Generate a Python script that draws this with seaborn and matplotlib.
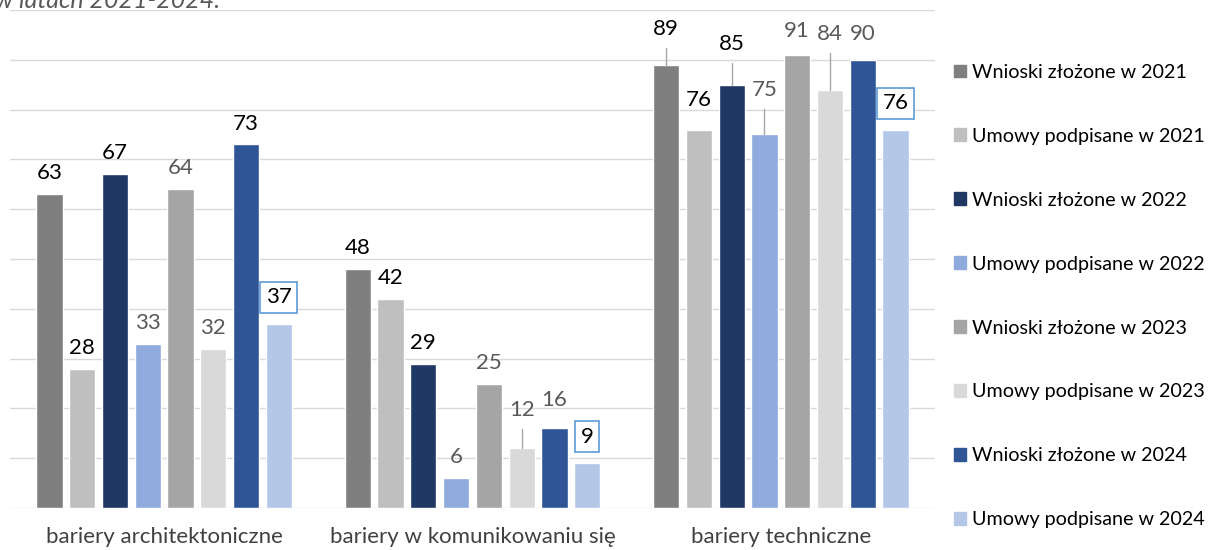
import matplotlib
matplotlib.use("Agg")
import matplotlib.pyplot as plt
import seaborn as sns
import pandas as pd

categories = ["bariery architektoniczne", "bariery w komunikowaniu się", "bariery techniczne"]
series = ["Wnioski złożone w 2021", "Umowy podpisane w 2021",
          "Wnioski złożone w 2022", "Umowy podpisane w 2022",
          "Wnioski złożone w 2023", "Umowy podpisane w 2023",
          "Wnioski złożone w 2024", "Umowy podpisane w 2024"]
values = [
    [63, 28, 67, 33, 64, 32, 73, 37],
    [48, 42, 29, 6, 25, 12, 16, 9],
    [89, 76, 85, 75, 91, 84, 90, 76],
]
colors = ["#7F7F7F", "#BFBFBF", "#1F3864", "#8FAADC",
          "#A5A5A5", "#D9D9D9", "#2F5597", "#B4C7E7"]
# label colour per bar (black vs grey), as in the original
dark_label = [
    [1, 1, 1, 0, 0, 0, 1, 1],
    [1, 1, 1, 0, 0, 0, 0, 1],
    [1, 1, 1, 0, 0, 0, 0, 1],
]

rows = []
for c, vals in zip(categories, values):
    for s, v in zip(series, vals):
        rows.append({"kategoria": c, "seria": s, "wartosc": v})
df = pd.DataFrame(rows)

sns.set_style("white")
plt.rcParams["font.family"] = ["Lato", "DejaVu Sans"]

fig = plt.figure(figsize=(12.08, 5.5), dpi=100)
ax = fig.add_axes([10 / 1208, 42 / 550, 925 / 1208, 498 / 550])

sns.barplot(data=df, x="kategoria", y="wartosc", hue="seria", palette=colors,
            width=0.85, gap=0.2, ax=ax, legend=False, saturation=1)

ax.set_ylim(0, 100)
ax.set_yticks(range(0, 101, 10))
ax.yaxis.grid(True, color="#D9D9D9", linewidth=1)
ax.set_axisbelow(True)
for sp in ax.spines.values():
    sp.set_visible(False)
ax.tick_params(axis="y", left=False, labelleft=False)
ax.tick_params(axis="x", bottom=False, labelsize=16, colors="#404040", pad=10)
ax.set_xlabel("")
ax.set_ylabel("")
ax.set_xlim(-0.5, 2.5)

# labels lifted with leader lines: (category, series) -> label height
lifted = {(2, 0): 96.2, (2, 2): 93.2, (2, 3): 84.0, (2, 5): 95.2, (1, 5): 19.6}
extra = {(2, 1): 6.0, (2, 4): 4.8, (2, 6): 5.2, (1, 6): 5.6}

for si, cont in enumerate(ax.containers):
    for ci, bar in enumerate(cont):
        v = values[ci][si]
        xc = bar.get_x() + bar.get_width() / 2
        col = "#000000" if dark_label[ci][si] else "#595959"
        if (ci, si) in lifted:
            ly = lifted[(ci, si)]
            ax.plot([xc, xc], [v, ly - 3.8], color="#A6A6A6", linewidth=1, zorder=1)
        else:
            ly = v + extra.get((ci, si), 4.2)
        kw = {}
        if si == 7:
            ly = v + 5.3
            kw["bbox"] = dict(boxstyle="square,pad=0.25", facecolor="white",
                              edgecolor="#5B9BD5", linewidth=1.2)
        ax.text(xc, ly, str(v), ha="center", va="center", fontsize=16,
                color=col, zorder=3, **kw)

handles = [plt.Rectangle((0, 0), 1, 1, color=c) for c in colors]
fig.legend(handles, series, loc="upper left", bbox_to_anchor=(936 / 1208, 1 - 46 / 550),
           frameon=False, fontsize=14.2, handlelength=0.6, handleheight=0.6,
           handletextpad=0.35, labelspacing=2.38, labelcolor="#000000")

fig.text(-0.004, 1 - 8 / 550, "w latach 2021-2024.", fontsize=18, style="italic",
         color="#595959", ha="left", va="baseline")

fig.savefig("out.png", dpi=100)
